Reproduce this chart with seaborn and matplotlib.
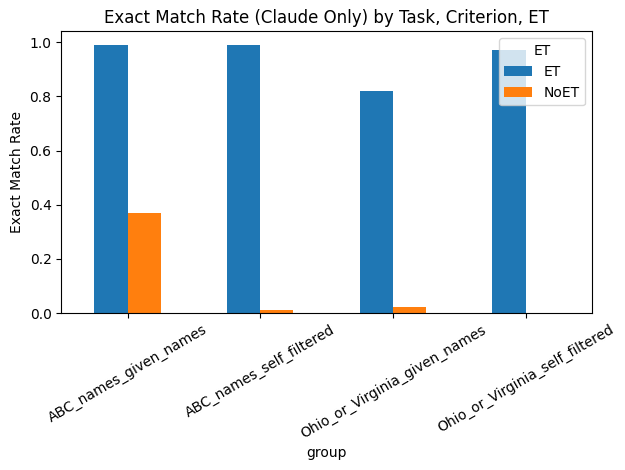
import pandas as pd
import matplotlib
matplotlib.use('Agg')
import matplotlib.pyplot as plt
import seaborn as sns

groups = ['ABC_names_given_names', 'ABC_names_self_filtered',
          'Ohio_or_Virginia_given_names', 'Ohio_or_Virginia_self_filtered']
et_rate = [0.99, 0.99, 0.82, 0.97]
noet_rate = [0.37, 0.011, 0.022, 0.0]

df = pd.DataFrame({
    'group': groups * 2,
    'ET': ['ET'] * len(groups) + ['NoET'] * len(groups),
    'rate': et_rate + noet_rate,
})

fig, ax = plt.subplots(figsize=(6.25, 4.7), dpi=100)
sns.barplot(data=df, x='group', y='rate', hue='ET', ax=ax,
            palette=['#1f77b4', '#ff7f0e'], saturation=1, width=0.5,
            errorbar=None, linewidth=0)
ax.set_xlim(-0.5, len(groups) - 0.5)
plt.xticks(rotation=30)
ax.set_ylabel('Exact Match Rate')
ax.set_xlabel('group')
ax.set_title('Exact Match Rate (Claude Only) by Task, Criterion, ET')
ax.legend(title='ET', loc='upper right')
plt.subplots_adjust(left=0.098, right=0.947, top=0.933, bottom=0.334)
plt.savefig('out.png', dpi=100)
